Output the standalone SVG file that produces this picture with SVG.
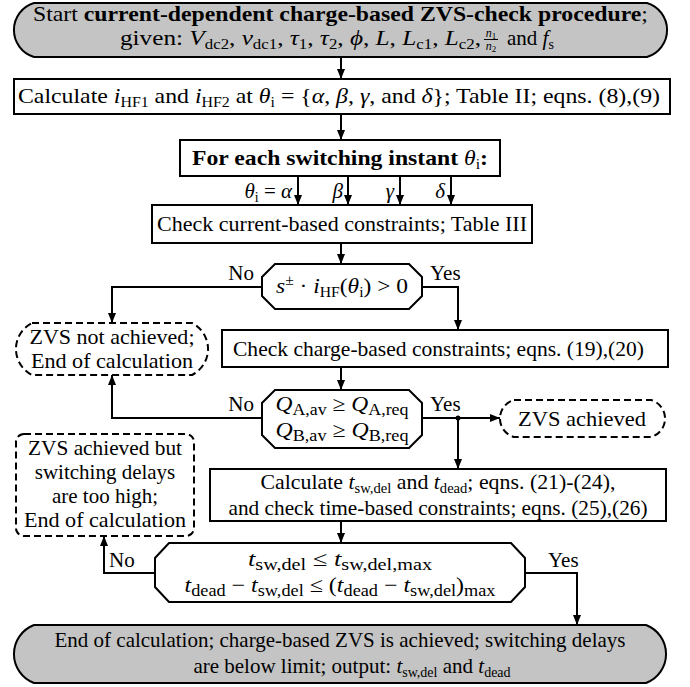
<svg xmlns="http://www.w3.org/2000/svg" width="690" height="687" viewBox="0 0 690 687">
<defs>
<style>
.box{fill:#fff;stroke:#000;stroke-width:2}
.term{fill:#c4c4c4;stroke:#000;stroke-width:2}
.dash{fill:#fff;stroke:#000;stroke-width:2;stroke-dasharray:7 4}
.conn{fill:none;stroke:#000;stroke-width:2}
.a{marker-end:url(#ah)}
text{font-family:"Liberation Serif","Times New Roman",serif;font-size:21px;fill:#000}
.c{text-anchor:middle}
.e{text-anchor:end}
.it{font-style:italic}
.sb{font-size:14px;font-style:normal}
.sm{font-size:16px;font-style:normal}
.b{font-weight:bold}
.n{font-weight:normal}
</style>
<marker id="ah" viewBox="0 0 10 8" refX="10" refY="4" markerWidth="10" markerHeight="8" markerUnits="userSpaceOnUse" orient="auto"><path d="M0,0 L10,4 L0,8 z" fill="#000"/></marker>
</defs>

<g id="connectors">
<path class="conn a" d="M341,57 V79"/>
<path class="conn a" d="M341,114 V140"/>
<path class="conn a" d="M298,176 V205"/>
<path class="conn a" d="M348,176 V205"/>
<path class="conn a" d="M400,176 V205"/>
<path class="conn a" d="M451,176 V205"/>
<path class="conn a" d="M341,243 V264"/>
<path class="conn a" d="M262,287 H112 V323"/>
<path class="conn a" d="M422,287 H458 V330"/>
<path class="conn a" d="M341,367 V390"/>
<path class="conn a" d="M262,418 H112 V375"/>
<path class="conn a" d="M422,418 H500"/>
<path class="conn a" d="M458,418 V469"/>
<circle cx="458" cy="418" r="2.5" fill="#000"/>
<path class="conn a" d="M341,521 V543"/>
<path class="conn a" d="M155,573 H104 V536"/>
<path class="conn a" d="M525,573 H577 V625"/>
<text x="292" y="198" class="e"><tspan class="it">θ</tspan><tspan class="sb" dy="4">i</tspan><tspan dy="-4"> = </tspan><tspan class="it">α</tspan></text>
<text x="343" y="198" class="e it">β</text>
<text x="394" y="198" class="e it">γ</text>
<text x="445" y="198" class="e it">δ</text>
<text x="254" y="280" class="e">No</text>
<text x="430" y="280">Yes</text>
<text x="254" y="411" class="e">No</text>
<text x="430" y="411">Yes</text>
<text x="109" y="567">No</text>
<text x="548" y="567">Yes</text>
</g>

<g id="start">
<path class="term" d="M34,3 H647 A28.2,28.2 0 0 1 647,57 H34 A28.2,28.2 0 0 1 34,3 Z"/>
<text class="c" x="340.5" y="20.5" textLength="615" lengthAdjust="spacingAndGlyphs">Start <tspan class="b">current-dependent charge-based ZVS-check procedure</tspan>;</text>
<text x="120" y="44.5" textLength="361" lengthAdjust="spacingAndGlyphs">given: <tspan class="it">V</tspan><tspan class="sb" dy="4">dc2</tspan><tspan dy="-4">, </tspan><tspan class="it">v</tspan><tspan class="sb" dy="4">dc1</tspan><tspan dy="-4">, </tspan><tspan class="it">τ</tspan><tspan class="sb" dy="4">1</tspan><tspan dy="-4">, </tspan><tspan class="it">τ</tspan><tspan class="sb" dy="4">2</tspan><tspan dy="-4">, </tspan><tspan class="it">ϕ</tspan>, <tspan class="it">L</tspan>, <tspan class="it">L</tspan><tspan class="sb" dy="4">c1</tspan><tspan dy="-4">, </tspan><tspan class="it">L</tspan><tspan class="sb" dy="4">c2</tspan><tspan dy="-4">,</tspan></text>
<text class="c it" x="491" y="36.5" style="font-size:12px">n<tspan style="font-size:9px;font-style:normal" dy="2">1</tspan></text>
<line x1="484" y1="39.5" x2="498" y2="39.5" stroke="#000" stroke-width="1"/>
<text class="c it" x="491" y="50" style="font-size:12px">n<tspan style="font-size:9px;font-style:normal" dy="2">2</tspan></text>
<text x="507" y="44.5">and <tspan class="it">f</tspan><tspan class="sb" dy="4">s</tspan></text>
</g>

<g id="calc-ihf">
<rect class="box" x="14" y="79" width="656" height="35"/>
<text class="c" x="339" y="103" textLength="642" lengthAdjust="spacingAndGlyphs">Calculate <tspan class="it">i</tspan><tspan class="sb" dy="4">HF1</tspan><tspan dy="-4"> and </tspan><tspan class="it">i</tspan><tspan class="sb" dy="4">HF2</tspan><tspan dy="-4"> at </tspan><tspan class="it">θ</tspan><tspan class="sb" dy="4">i</tspan><tspan dy="-4"> = {</tspan><tspan class="it">α</tspan>, <tspan class="it">β</tspan>, <tspan class="it">γ</tspan>, and <tspan class="it">δ</tspan>}; Table II; eqns.  (8),(9)</text>
</g>

<g id="for-each">
<rect class="box" x="180" y="140" width="320" height="36"/>
<text class="c b" x="340" y="165" textLength="296" lengthAdjust="spacingAndGlyphs">For each switching instant <tspan class="it n">θ</tspan><tspan class="sb n" dy="4">i</tspan><tspan dy="-4">:</tspan></text>
</g>

<g id="check-current">
<rect class="box" x="152" y="205" width="380" height="38"/>
<text class="c" x="342" y="231" textLength="370" lengthAdjust="spacingAndGlyphs">Check current-based constraints; Table III</text>
</g>

<g id="decision-current">
<polygon class="box" points="275,264 409,264 422,277 422,296 409,309 275,309 262,296 262,277"/>
<text class="c" x="342" y="293" textLength="132" lengthAdjust="spacingAndGlyphs"><tspan class="it">s</tspan><tspan class="sb" dy="-8">±</tspan><tspan dy="8"> · </tspan><tspan class="it">i</tspan><tspan class="sb" dy="4">HF</tspan><tspan dy="-4">(</tspan><tspan class="it">θ</tspan><tspan class="sb" dy="4">i</tspan><tspan dy="-4">) &gt; 0</tspan></text>
</g>

<g id="zvs-not-achieved">
<path class="dash" d="M32,323 H192 A29.1,29.1 0 0 1 192,375 H32 A29.1,29.1 0 0 1 32,323 Z"/>
<text class="c" x="112" y="344" textLength="165" lengthAdjust="spacingAndGlyphs">ZVS not achieved;</text>
<text class="c" x="112" y="368" textLength="162" lengthAdjust="spacingAndGlyphs">End of calculation</text>
</g>

<g id="check-charge">
<rect class="box" x="222" y="330" width="446" height="37"/>
<text class="c" x="438.5" y="356" textLength="411" lengthAdjust="spacingAndGlyphs">Check charge-based constraints; eqns.  (19),(20)</text>
</g>

<g id="decision-charge">
<polygon class="box" points="275,390 409,390 422,403 422,435 409,448 275,448 262,435 262,403"/>
<text class="c" x="342" y="411" textLength="133" lengthAdjust="spacingAndGlyphs"><tspan class="it">Q</tspan><tspan class="sm" dy="4">A,av</tspan><tspan dy="-4"> ≥ </tspan><tspan class="it">Q</tspan><tspan class="sm" dy="4">A,req</tspan></text>
<text class="c" x="342" y="437" textLength="133" lengthAdjust="spacingAndGlyphs"><tspan class="it">Q</tspan><tspan class="sm" dy="4">B,av</tspan><tspan dy="-4"> ≥ </tspan><tspan class="it">Q</tspan><tspan class="sm" dy="4">B,req</tspan></text>
</g>

<g id="zvs-achieved">
<path class="dash" d="M514,400 H651 A19.2,19.2 0 0 1 651,437 H514 A19.2,19.2 0 0 1 514,400 Z"/>
<text class="c" x="582" y="426" textLength="128" lengthAdjust="spacingAndGlyphs">ZVS achieved</text>
</g>

<g id="delays-too-high">
<rect class="dash" x="16" y="434" width="178" height="102" rx="8"/>
<text class="c" x="105" y="455" textLength="154" lengthAdjust="spacingAndGlyphs">ZVS achieved but</text>
<text class="c" x="105" y="479">switching delays</text>
<text class="c" x="105" y="503">are too high;</text>
<text class="c" x="105" y="527" textLength="162" lengthAdjust="spacingAndGlyphs">End of calculation</text>
</g>

<g id="calc-time">
<rect class="box" x="210" y="469" width="456" height="52"/>
<text class="c" x="438" y="489" textLength="355" lengthAdjust="spacingAndGlyphs">Calculate <tspan class="it">t</tspan><tspan class="sb" dy="4">sw,del</tspan><tspan dy="-4"> and </tspan><tspan class="it">t</tspan><tspan class="sb" dy="4">dead</tspan><tspan dy="-4">; eqns.  (21)-(24),</tspan></text>
<text class="c" x="438" y="515" textLength="419" lengthAdjust="spacingAndGlyphs">and check time-based constraints; eqns.  (25),(26)</text>
</g>

<g id="decision-time">
<polygon class="box" points="169,543 511,543 525,558 525,587 511,602 169,602 155,587 155,558"/>
<text class="c" x="340" y="566" textLength="184" lengthAdjust="spacingAndGlyphs"><tspan class="it">t</tspan><tspan class="sm" dy="4">sw,del</tspan><tspan dy="-4">  ≤  </tspan><tspan class="it">t</tspan><tspan class="sm" dy="4">sw,del,max</tspan></text>
<text class="c" x="340" y="592" textLength="311" lengthAdjust="spacingAndGlyphs"><tspan class="it">t</tspan><tspan class="sm" dy="4">dead</tspan><tspan dy="-4"> − </tspan><tspan class="it">t</tspan><tspan class="sm" dy="4">sw,del</tspan><tspan dy="-4">  ≤  (</tspan><tspan class="it">t</tspan><tspan class="sm" dy="4">dead</tspan><tspan dy="-4"> − </tspan><tspan class="it">t</tspan><tspan class="sm" dy="4">sw,del</tspan><tspan dy="-4">)</tspan><tspan class="sm" dy="4">max</tspan></text>
</g>

<g id="end">
<path class="term" d="M34,625 H646 A31,31 0 0 1 646,683 H34 A31,31 0 0 1 34,625 Z"/>
<text class="c" x="340" y="647" textLength="571" lengthAdjust="spacingAndGlyphs">End of calculation; charge-based ZVS is achieved; switching delays</text>
<text class="c" x="352" y="673">are below limit; output: <tspan class="it">t</tspan><tspan class="sb" dy="4">sw,del</tspan><tspan dy="-4"> and </tspan><tspan class="it">t</tspan><tspan class="sb" dy="4">dead</tspan></text>
</g>
</svg>
